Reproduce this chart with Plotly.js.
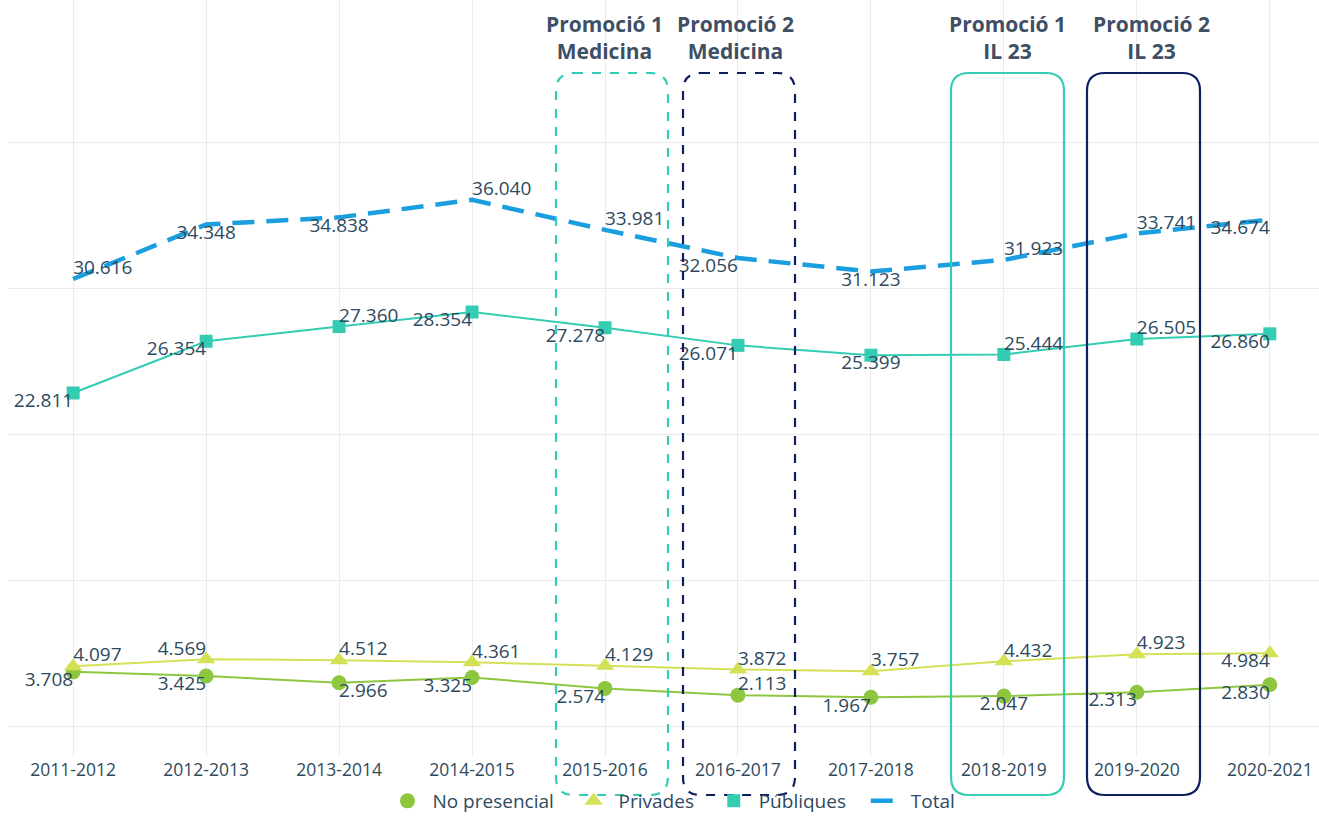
<!DOCTYPE html>
<html>
<head>
<meta charset="utf-8">
<script src="https://cdn.plot.ly/plotly-3.0.1.min.js"></script>
<style>html,body{margin:0;padding:0;background:#fff;}#chart{width:1319px;height:816px;}</style>
</head>
<body>
<div id="chart"></div>
<script>
const categories = ["2011-2012","2012-2013","2013-2014","2014-2015","2015-2016","2016-2017","2017-2018","2018-2019","2019-2020","2020-2021"];
const noPresencial = [3708,3425,2966,3325,2574,2113,1967,2047,2313,2830];
const privades = [4097,4569,4512,4361,4129,3872,3757,4432,4923,4984];
const publiques = [22811,26354,27360,28354,27278,26071,25399,25444,26505,26860];
const total = [30616,34348,34838,36040,33981,32056,31123,31923,33741,34674];
const seriesNames = ["No presencial","Privades","Públiques","Total"];

const posNoPres = ["bottom left","bottom left","bottom right","bottom left","bottom left","top right","bottom left","bottom center","bottom left","bottom left"];
const posPriv = ["top right","top left","top right","top right","top right","top right","top right","top right","top right","bottom left"];
const posPub = ["bottom left","bottom left","top right","bottom left","bottom left","bottom left","bottom center","top right","top right","bottom left"];
const posTot = ["top right","bottom center","bottom center","top right","top right","bottom left","bottom center","top right","top right","bottom left"];

const fmt = v => (v/1000).toFixed(3);
const FONT = "Open Sans, sans-serif";
const labelFont = {family:FONT, size:19, color:"#2e4a5e"};
const NB = "\u00a0";
const legendName = n => NB + n + NB + NB + NB;

const series = [
  {name:seriesNames[0], y:noPresencial, color:"#8dc63f", symbol:"circle", size:15, pos:posNoPres},
  {name:seriesNames[1], y:privades, color:"#d4e157", symbol:"triangle-up", size:16, pos:posPriv},
  {name:seriesNames[2], y:publiques, color:"#34cdb4", symbol:"square", size:13, pos:posPub}
];

const traces = [];
series.forEach(s => {
  traces.push({name:s.name, x:categories, y:s.y, mode:"lines", showlegend:false,
    line:{color:s.color, width:2}, hoverinfo:"skip", legendgroup:s.name});
  traces.push({name:legendName(s.name), x:categories, y:s.y, mode:"markers", showlegend:true, legendgroup:s.name,
    marker:{symbol:s.symbol, size:s.size, color:s.color}, hoverinfo:"x+y"});
});
traces.push({name:NB + seriesNames[3], x:categories, y:total, mode:"lines", showlegend:true,
  line:{color:"#1a9ee0", width:4.5, dash:"22px,12px"}, hoverinfo:"x+y"});
// data labels as text-only traces
series.forEach(s => {
  traces.push({x:categories, y:s.y, mode:"text", showlegend:false, text:s.y.map(fmt),
    textposition:s.pos, textfont:labelFont, cliponaxis:false, hoverinfo:"skip"});
});
traces.push({x:categories, y:total, mode:"text", showlegend:false, text:total.map(fmt),
  textposition:posTot, textfont:labelFont, cliponaxis:false, hoverinfo:"skip"});

// geometry helpers for rounded annotation boxes (pixel -> paper)
const ML = 8, MT = 0, PW = 1311, PH = 757;
const px = x => (x - ML) / PW;
const py = y => 1 - (y - MT) / PH;
function roundedBox(x0, x1, y0, y1, r) {
  const p = (x, y) => px(x) + "," + py(y);
  return "M" + p(x0 + r, y0) + " L" + p(x1 - r, y0) + " Q" + p(x1, y0) + " " + p(x1, y0 + r) +
         " L" + p(x1, y1 - r) + " Q" + p(x1, y1) + " " + p(x1 - r, y1) +
         " L" + p(x0 + r, y1) + " Q" + p(x0, y1) + " " + p(x0, y1 - r) +
         " L" + p(x0, y0 + r) + " Q" + p(x0, y0) + " " + p(x0 + r, y0) + " Z";
}
const boxes = [
  {x0:556, x1:668, color:"#34cdb4", dash:"dash", label:"Promoció 1<br>Medicina", cx:604},
  {x0:683, x1:795, color:"#0d1f5c", dash:"dash", label:"Promoció 2<br>Medicina", cx:735},
  {x0:951, x1:1064, color:"#34cdb4", dash:"solid", label:"Promoció 1<br>IL 23", cx:1007},
  {x0:1087, x1:1200, color:"#0d1f5c", dash:"solid", label:"Promoció 2<br>IL 23", cx:1151}
];
const shapes = boxes.map(b => ({type:"path", xref:"paper", yref:"paper",
  path: roundedBox(b.x0, b.x1, 73, 795, 18), line:{color:b.color, width:2.2, dash:b.dash}, layer:"above"}));
const annotations = boxes.map(b => ({xref:"paper", yref:"paper", x:px(b.cx), y:py(38),
  xanchor:"center", yanchor:"middle", showarrow:false, text:"<b>"+b.label+"</b>",
  font:{family:FONT, size:21, color:"#3f4f65"}}));

const layout = {
  width:1319, height:816,
  margin:{l:ML, r:0, t:MT, b:59, autoexpand:false},
  paper_bgcolor:"#ffffff", plot_bgcolor:"#ffffff",
  showlegend:true,
  legend:{orientation:"h", x:px(674), xanchor:"center", y:py(801), yanchor:"middle",
    font:{family:FONT, size:19, color:"#2e4a5e"}, bgcolor:"rgba(0,0,0,0)", traceorder:"normal"},
  xaxis:{type:"category", range:[-0.49, 9.37], showgrid:true, gridcolor:"#ebebeb", gridwidth:1,
    zeroline:false, showline:false, ticks:"", tickfont:{family:FONT, size:17.5, color:"#2e4a5e"}},
  yaxis:{range:[-2123, 49726], tick0:0, dtick:10000, showgrid:true, gridcolor:"#ebebeb", gridwidth:1,
    zeroline:false, showline:false, showticklabels:false, ticks:""},
  shapes:shapes, annotations:annotations
};

Plotly.newPlot("chart", traces, layout, {displayModeBar:false, staticPlot:true});
</script>
</body>
</html>
